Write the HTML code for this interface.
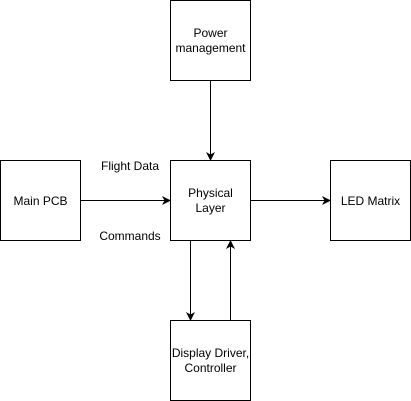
<!DOCTYPE html>
<html><head><style>body{margin:0;background:#fff}svg{display:block}text{font-family:"Liberation Sans",Arial,sans-serif;font-size:12px}</style></head><body>
<svg width="411" height="401" xmlns="http://www.w3.org/2000/svg" fill="none">
<defs><marker id="a" markerWidth="9" markerHeight="9" refX="8" refY="4.5" orient="auto" markerUnits="userSpaceOnUse"><path d="M0,0 L9,4.5 L0,9 L2.5,4.5 Z" fill="#000"/></marker></defs>
<g stroke="#000" stroke-width="1">
<rect x="170.5" y="0.5" width="80" height="80" fill="#fff"/>
<rect x="170.5" y="160.5" width="80" height="80" fill="#fff"/>
<rect x="0.5" y="160.5" width="80" height="80" fill="#fff"/>
<rect x="330.5" y="160.5" width="80" height="80" fill="#fff"/>
<rect x="170.5" y="320.5" width="80" height="80" fill="#fff"/>
<line x1="210.5" y1="80.5" x2="210.5" y2="160" marker-end="url(#a)"/>
<line x1="80.5" y1="200.5" x2="170" y2="200.5" marker-end="url(#a)"/>
<line x1="250.5" y1="200.5" x2="330" y2="200.5" marker-end="url(#a)"/>
<line x1="190.5" y1="240.5" x2="190.5" y2="320" marker-end="url(#a)"/>
<line x1="230.5" y1="320.5" x2="230.5" y2="241" marker-end="url(#a)"/>
</g>
<g fill="#000" text-anchor="middle">
<text x="210.5" y="37">Power</text><text x="210.5" y="52">management</text>
<text x="210.5" y="197">Physical</text><text x="210.5" y="212">Layer</text>
<text x="40.5" y="205">Main PCB</text>
<text x="370.5" y="205">LED Matrix</text>
<text x="210.5" y="357">Display Driver,</text><text x="210.5" y="372">Controller</text>
<text x="130" y="170">Flight Data</text>
<text x="130" y="240">Commands</text>
</g>
</svg>
</body></html>
